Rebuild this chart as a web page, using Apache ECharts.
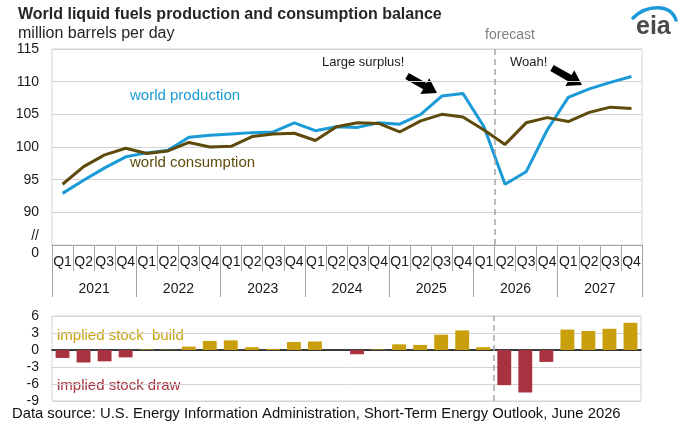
<!DOCTYPE html>
<html lang="en">
<head>
<meta charset="utf-8"/>
<title>World liquid fuels production and consumption balance</title>
<script src="https://cdn.jsdelivr.net/npm/echarts@6/dist/echarts.min.js"></script>
<style>
    html, body { margin: 0; padding: 0; background: #fff; }
    #chart { width: 680px; height: 434px; }
</style>
</head>
<body>
<div id="chart"></div>
<script>
    // quarterly values, Q1 2021 .. Q4 2027 (million barrels per day)
    const quarters = ['Q1', 'Q2', 'Q3', 'Q4', 'Q1', 'Q2', 'Q3', 'Q4', 'Q1', 'Q2', 'Q3', 'Q4', 'Q1', 'Q2',
        'Q3', 'Q4', 'Q1', 'Q2', 'Q3', 'Q4', 'Q1', 'Q2', 'Q3', 'Q4', 'Q1', 'Q2', 'Q3', 'Q4'];
    const years = ['2021', '2022', '2023', '2024', '2025', '2026', '2027'];
    const production = [92.9, 94.9, 96.8, 98.5, 99.1, 99.5, 101.5, 101.8, 102.0, 102.2, 102.3, 103.7, 102.5, 103.1,
        103.0, 103.7, 103.5, 105.0, 107.8, 108.2, 103.1, 94.3, 96.2, 102.6, 107.6, 108.9, 109.9, 110.8];
    const consumption = [94.3, 97.0, 98.8, 99.8, 99.0, 99.4, 100.7, 100.0, 100.1, 101.6, 102.0, 102.1, 101.0, 103.1,
        103.7, 103.6, 102.3, 104.0, 105.0, 104.6, 102.6, 100.4, 103.7, 104.5, 103.9, 105.3, 106.1, 105.9];
    const stockChange = [-1.4, -2.2, -2.0, -1.3, 0.1, 0.05, 0.6, 1.6, 1.7, 0.5, 0.2, 1.4, 1.5, 0,
        -0.75, 0.1, 1.0, 0.9, 2.7, 3.45, 0.5, -6.2, -7.5, -2.1, 3.6, 3.35, 3.75, 4.8];
    const mainTicks = [85, 90, 95, 100, 105, 110, 115];
    const forecastStart = 21;

    const font = "'Liberation Sans', Arial, sans-serif";
    const blue = '#1a9ad6';
    const brown = '#5e4b0b';
    const gold = '#c9a00c';
    const red = '#a8323f';
    const ink = '#1a1a1a';
    const rule = '#a6a6a6';

    // fat annotation arrow from tail to tip
    function arrow(x1, y1, x2, y2) {
        const dx = x2 - x1, dy = y2 - y1, len = Math.hypot(dx, dy);
        const ux = dx / len, uy = dy / len, nx = -uy, ny = ux;
        const nk = [x2 - ux * 14, y2 - uy * 14];
        const p = (bx, by, w) => [bx + nx * w, by + ny * w];
        return {
            type: 'polygon', silent: true,
            shape: { points: [p(x1, y1, 3.5), p(nk[0], nk[1], 3.5), p(nk[0], nk[1], 9), [x2, y2],
                p(nk[0], nk[1], -9), p(nk[0], nk[1], -3.5), p(x1, y1, -3.5)] },
            style: { fill: '#000' }
        };
    }

    function label(text, x, y, size, color, weight, align) {
        return {
            type: 'text', x: x, y: y, silent: true,
            style: { text: text, fontSize: size, fontFamily: font, fontWeight: weight || 'normal',
                fill: color, verticalAlign: 'middle', align: align || 'left' }
        };
    }

    const chart = echarts.init(document.getElementById('chart'));
    const option = {
        animation: false,
        textStyle: { fontFamily: font },
        title: [
            { text: 'World liquid fuels production and consumption balance', left: 13, top: 2,
                textStyle: { fontSize: 16, fontWeight: 'bold', color: '#262626', fontFamily: font } },
            { text: 'million barrels per day', left: 13, top: 21,
                textStyle: { fontSize: 16, fontWeight: 'normal', color: '#262626', fontFamily: font } }
        ],
        grid: [
            { left: 52, right: 38, top: 49, bottom: 189, show: true, borderColor: '#d4d4d4', borderWidth: 1 },
            { left: 52, right: 39, top: 316, bottom: 33, show: true, borderColor: '#d4d4d4', borderWidth: 1 }
        ],
        xAxis: [
            { type: 'category', gridIndex: 0, data: quarters, position: 'bottom',
                axisLine: { onZero: false, lineStyle: { color: rule } },
                axisTick: { show: true, interval: 0, length: 26, lineStyle: { color: rule } },
                axisLabel: { interval: 0, margin: 10, fontSize: 14, color: ink } },
            { type: 'category', gridIndex: 0, data: years, position: 'bottom', offset: 0,
                axisLine: { show: true, onZero: false, lineStyle: { color: rule } },
                axisTick: { show: true, interval: 0, length: 52, lineStyle: { color: rule } },
                axisLabel: { interval: 0, margin: 37, fontSize: 14, color: ink } },
            { type: 'value', gridIndex: 0, min: 0, max: 28, show: false },
            { type: 'category', gridIndex: 1, data: quarters,
                axisLine: { lineStyle: { color: '#000', width: 1.5 } },
                axisTick: { show: false }, axisLabel: { show: false } },
            { type: 'value', gridIndex: 1, min: 0, max: 28, show: false }
        ],
        yAxis: [
            { type: 'value', gridIndex: 0, min: mainTicks[0], max: mainTicks[mainTicks.length - 1], interval: 5,
                axisLine: { show: false }, axisTick: { show: false },
                splitLine: { lineStyle: { color: '#d4d4d4' } },
                axisLabel: { margin: 13, fontSize: 14, color: ink, lineHeight: 17,
                    formatter: v => v === mainTicks[0] ? '//\n0' : String(v) } },
            { type: 'value', gridIndex: 1, min: -9, max: 6, interval: 3,
                axisLine: { show: false }, axisTick: { show: false },
                splitLine: { lineStyle: { color: '#d4d4d4' } },
                axisLabel: { margin: 13, fontSize: 14, color: ink } }
        ],
        series: [
            { type: 'line', name: 'world production', xAxisIndex: 0, yAxisIndex: 0, data: production,
                symbol: 'none', lineStyle: { color: blue, width: 3 } },
            { type: 'line', name: 'world consumption', xAxisIndex: 0, yAxisIndex: 0, data: consumption,
                symbol: 'none', lineStyle: { color: brown, width: 3 } },
            { type: 'bar', name: 'implied stock change', xAxisIndex: 3, yAxisIndex: 1, barWidth: '66%',
                data: stockChange.map(v => ({ value: v, itemStyle: { color: v >= 0 ? gold : red } })) },
            { type: 'line', xAxisIndex: 2, yAxisIndex: 0, data: [],
                markLine: { silent: true, symbol: 'none', label: { show: false },
                    lineStyle: { color: rule, type: [6, 4], width: 1.5 }, data: [{ xAxis: forecastStart }] } },
            { type: 'line', xAxisIndex: 4, yAxisIndex: 1, data: [],
                markLine: { silent: true, symbol: 'none', label: { show: false },
                    lineStyle: { color: rule, type: [6, 4], width: 1.5 }, data: [{ xAxis: forecastStart }] } }
        ],
        graphic: [
            label('forecast', 510, 35, 14, '#808080', 'normal', 'center'),
            label('Large surplus!', 322, 62, 13, ink),
            label('Woah!', 510, 62, 13, ink),
            label('world production', 130, 96, 15, blue),
            label('world consumption', 130, 163, 15, brown),
            label('implied stock  build', 57, 336, 15, gold),
            label('implied stock draw', 57, 386, 15, red),
            label('Data source: U.S. Energy Information Administration, Short-Term Energy Outlook, June 2026',
                12, 414, 14.8, '#111'),
            arrow(407, 76, 437, 93),
            arrow(552, 68, 582, 85),
            // eia logo
            { type: 'bezierCurve', silent: true,
                shape: { x1: 633, y1: 18, cpx1: 646, cpy1: 5, cpx2: 670, cpy2: 3, x2: 676, y2: 20 },
                style: { stroke: blue, lineWidth: 3.5, fill: null, lineCap: 'round' } },
            label('eia', 636, 27, 25, '#4a4a4a', 'bold')
        ]
    };
    chart.setOption(option);
</script>
</body>
</html>
